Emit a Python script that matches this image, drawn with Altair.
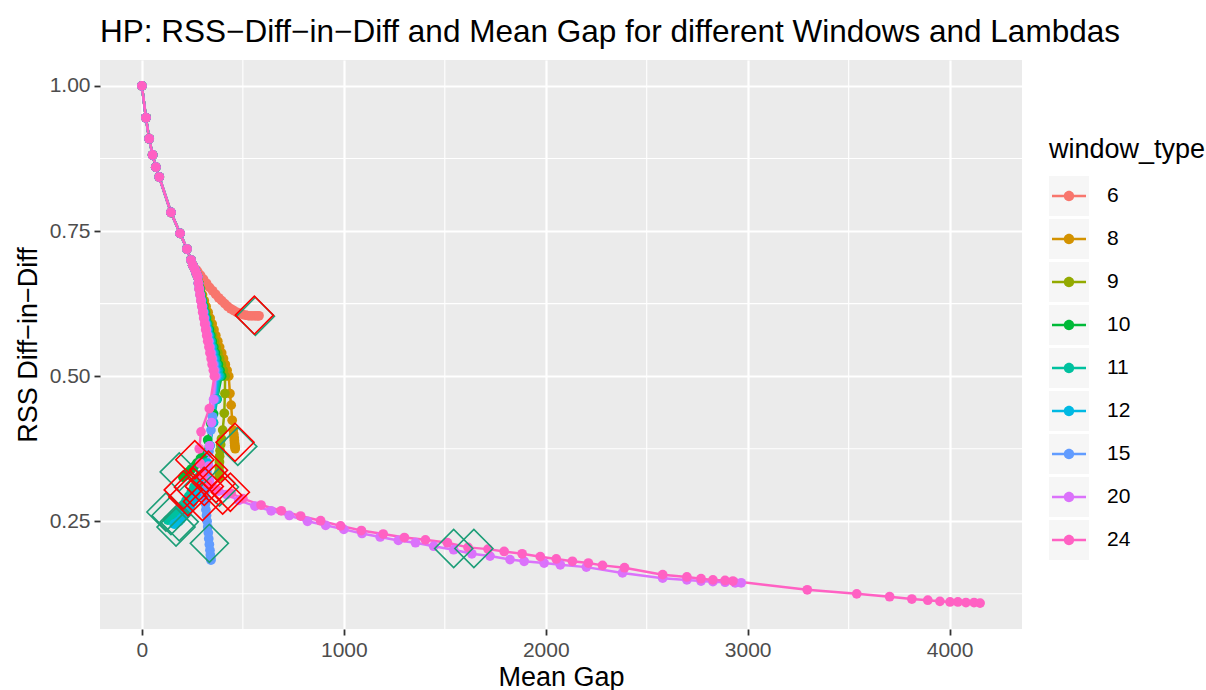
import altair as alt
import pandas as pd

# ---------------- data ----------------
window_types = ["6", "8", "9", "10", "11", "12", "15", "20", "24"]
palette = ["#F8766D", "#D39200", "#93AA00", "#00BA38", "#00C19F",
           "#00B9E3", "#619CFF", "#DB72FB", "#FF61C3"]

# common start (smallest lambdas) shared by every window
trunk_x = [0, 20, 36, 53, 69, 86, 144, 189, 223, 243, 252, 262]
trunk_y = [1.000, 0.945, 0.909, 0.881, 0.860, 0.843, 0.782, 0.746, 0.719, 0.700, 0.691, 0.684]

# window 6 branch
w6_x = [270, 276, 290, 305, 320, 335, 350, 365, 380, 395, 410, 425, 440, 455, 470, 485,
        500, 515, 530, 545, 560, 572, 580]
w6_y = [0.683, 0.680, 0.674, 0.667, 0.660, 0.653, 0.647, 0.641, 0.635, 0.630, 0.625, 0.620,
        0.616, 0.613, 0.610, 0.608, 0.606, 0.605, 0.604, 0.604, 0.604, 0.604, 0.604]

# descending fan (0.68 -> 0.50) for the other windows
bundle_y = [0.677, 0.671, 0.660, 0.650, 0.640, 0.630, 0.620, 0.610, 0.600, 0.590,
            0.580, 0.570, 0.560, 0.550, 0.540, 0.530, 0.520, 0.510, 0.500]
fan_x_8 = [270, 276, 283, 291, 300, 309, 318, 328, 338, 348, 357, 366, 376, 385, 395, 404, 413, 422, 430]
fan_x_9 = [270, 276, 282, 288, 295, 302, 310, 318, 326, 334, 342, 350, 359, 367, 376, 385, 394, 403, 412]
fan_x_10 = [270, 276, 281, 287, 293, 299, 306, 312, 319, 326, 334, 341, 348, 356, 364, 371, 379, 387, 395]
fan_x_11 = [270, 276, 281, 286, 291, 297, 303, 310, 316, 323, 329, 336, 343, 350, 357, 364, 371, 379, 386]
fan_x_12 = [270, 276, 280, 285, 290, 296, 301, 307, 313, 319, 325, 332, 338, 345, 351, 358, 364, 371, 378]
fan_x_15 = [270, 276, 280, 284, 289, 294, 299, 305, 310, 316, 321, 327, 333, 339, 345, 351, 358, 364, 370]
fan_x_20 = [270, 276, 280, 284, 288, 293, 298, 303, 308, 313, 319, 324, 330, 335, 341, 347, 352, 358, 364]
fan_x_24 = [270, 276, 280, 283, 288, 292, 297, 301, 306, 311, 316, 321, 326, 332, 337, 343, 348, 354, 359]

# ends of each window (largest lambdas)
end_x_8 = [436, 442, 447, 452, 455, 457, 458, 459, 460, 461, 462]
end_y_8 = [0.470, 0.450, 0.424, 0.407, 0.400, 0.394, 0.389, 0.385, 0.381, 0.378, 0.375]
end_x_9 = [411, 408, 400, 394, 390, 387, 385, 384, 383, 383, 383, 384]
end_y_9 = [0.470, 0.436, 0.407, 0.392, 0.382, 0.372, 0.362, 0.352, 0.344, 0.336, 0.330, 0.326]
end_x_10 = [372, 355, 342, 326, 309, 290, 272, 258, 245, 234, 224, 216, 209, 203]
end_y_10 = [0.460, 0.435, 0.418, 0.390, 0.367, 0.358, 0.350, 0.344, 0.340, 0.336, 0.333, 0.330, 0.328, 0.326]
end_x_11 = [372, 355, 335, 312, 290, 272, 258, 245, 232, 219, 206, 194, 182, 171, 160, 150, 141, 134, 128]
end_y_11 = [0.460, 0.420, 0.380, 0.350, 0.330, 0.318, 0.309, 0.301, 0.293, 0.286, 0.279, 0.273,
            0.268, 0.263, 0.260, 0.257, 0.255, 0.253, 0.252]
end_x_12 = [365, 352, 338, 326, 316, 305, 292, 279, 266, 253, 240, 228, 216, 205, 194, 184, 175, 167, 160]
end_y_12 = [0.460, 0.420, 0.380, 0.350, 0.334, 0.322, 0.310, 0.300, 0.291, 0.283, 0.276, 0.269,
            0.263, 0.258, 0.254, 0.250, 0.248, 0.246, 0.245]
end_x_15 = [360, 350, 342, 332, 322, 315, 312, 313, 315, 317, 320, 323, 326, 329, 331, 334, 337, 339, 341, 342]
end_y_15 = [0.460, 0.430, 0.407, 0.370, 0.335, 0.310, 0.300, 0.290, 0.280, 0.270, 0.260, 0.250,
            0.240, 0.230, 0.220, 0.210, 0.200, 0.192, 0.186, 0.183]
end_x_20 = [355, 345, 335, 330, 335, 350, 380, 420, 480, 560, 640, 730, 820, 910, 1000, 1090, 1180,
            1270, 1355, 1445, 1544, 1634, 1724, 1823, 1893, 1992, 2072, 2201, 2380, 2579, 2699,
            2769, 2828, 2888, 2938, 2968]
end_y_20 = [0.460, 0.420, 0.380, 0.345, 0.320, 0.308, 0.302, 0.296, 0.286, 0.276, 0.268, 0.260,
            0.250, 0.243, 0.236, 0.229, 0.223, 0.217, 0.213, 0.207, 0.201, 0.194, 0.190, 0.184,
            0.181, 0.178, 0.175, 0.171, 0.161, 0.152, 0.149, 0.147, 0.146, 0.145, 0.144, 0.144]
end_x_24 = [334, 293, 284, 288, 300, 325, 370, 442, 500, 590, 690, 786, 885, 984, 1087, 1195, 1300,
            1404, 1513, 1615, 1714, 1794, 1883, 1973, 2052, 2132, 2211, 2281, 2390, 2579, 2699,
            2769, 2828, 2888, 2927, 3295, 3540, 3703, 3813, 3892, 3952, 4002, 4041, 4081, 4121, 4151]
end_y_24 = [0.444, 0.404, 0.375, 0.350, 0.330, 0.315, 0.305, 0.298, 0.289, 0.278, 0.268, 0.259,
            0.251, 0.242, 0.234, 0.228, 0.222, 0.218, 0.213, 0.205, 0.202, 0.198, 0.194, 0.189,
            0.185, 0.181, 0.178, 0.174, 0.170, 0.158, 0.154, 0.151, 0.149, 0.148, 0.147, 0.132,
            0.125, 0.120, 0.116, 0.114, 0.112, 0.111, 0.111, 0.110, 0.110, 0.109]

# highlighted (diamond) points
teal_x = [562, 475, 185, 144, 185, 169, 334, 384, 119, 1544, 1644]
teal_y = [0.603, 0.379, 0.335, 0.260, 0.249, 0.240, 0.212, 0.309, 0.266, 0.203, 0.203]
red_x = [557, 461, 262, 330, 205, 255, 309, 367, 438, 400, 228, 300]
red_y = [0.605, 0.386, 0.356, 0.338, 0.304, 0.309, 0.310, 0.315, 0.300, 0.295, 0.292, 0.284]

x_ticks = [0, 1000, 2000, 3000, 4000]
y_ticks = [0.25, 0.50, 0.75, 1.00]
x_minor = [500, 1500, 2500, 3500]
y_minor = [0.125, 0.375, 0.625, 0.875]

# ---------------- tables ----------------
series = {
    "6": (w6_x, w6_y),
    "8": (fan_x_8 + end_x_8, bundle_y + end_y_8),
    "9": (fan_x_9 + end_x_9, bundle_y + end_y_9),
    "10": (fan_x_10 + end_x_10, bundle_y + end_y_10),
    "11": (fan_x_11 + end_x_11, bundle_y + end_y_11),
    "12": (fan_x_12 + end_x_12, bundle_y + end_y_12),
    "15": (fan_x_15 + end_x_15, bundle_y + end_y_15),
    "20": (fan_x_20 + end_x_20, bundle_y + end_y_20),
    "24": (fan_x_24 + end_x_24, bundle_y + end_y_24),
}
rows = []
for w in window_types:
    xs = trunk_x + series[w][0]
    ys = trunk_y + series[w][1]
    for i, (xv, yv) in enumerate(zip(xs, ys)):
        rows.append({"window_type": w, "x": xv, "y": yv, "i": i})
df = pd.DataFrame(rows)

teal_df = pd.DataFrame({"x": teal_x, "y": teal_y})
red_df = pd.DataFrame({"x": red_x, "y": red_y})
xminor_df = pd.DataFrame({"x": x_minor})
yminor_df = pd.DataFrame({"y": y_minor})

# ---------------- encodings ----------------
X = alt.X("x:Q", title="Mean Gap",
          scale=alt.Scale(domain=[-207.5, 4358.5], nice=False, zero=False),
          axis=alt.Axis(values=x_ticks, format="d", titlePadding=4))
Y = alt.Y("y:Q", title="RSS Diff\u2212in\u2212Diff",
          scale=alt.Scale(domain=[0.0644, 1.0446], nice=False, zero=False),
          axis=alt.Axis(values=y_ticks, format=".2f", titlePadding=7))

# key glyph (filled only): thin bar + dot, with the same [-1,1] extent as the grey key box
key_path = ("M-1,-1L-1,-1M1,1L1,1"
            "M-0.85,-0.065L0.85,-0.065L0.85,0.065L-0.85,0.065Z"
            "M-0.26,0A0.26,0.26,0,1,1,0.26,0A0.26,0.26,0,1,1,-0.26,0Z")
box_path = "M-1,-1L1,-1L1,1L-1,1Z"
label_expr = "length(datum.label) == 1 ? '\u00a0' + datum.label : datum.label"

legend_common = dict(
    orient="none", legendX=949, legendY=77, symbolSize=1600, symbolStrokeWidth=0,
    rowPadding=3, titlePadding=12, labelOffset=18, labelFontSize=21,
    titleFontSize=27, titleFontWeight="normal",
)
window_legend = alt.Legend(title="window_type", symbolType=key_path,
                           titleColor="black", labelColor="black",
                           labelExpr=label_expr, zindex=2, **legend_common)

color = alt.Color("window_type:N",
                  scale=alt.Scale(domain=window_types, range=palette),
                  legend=window_legend)

# grey key backgrounds: separate legend (different domain so it is not merged)
key_ids = ["key" + w for w in window_types]
key_bg = alt.Fill("key_id:N",
                  scale=alt.Scale(domain=key_ids, range=["#F2F2F2"] * len(key_ids)),
                  legend=alt.Legend(title="\u00a0", symbolType=box_path,
                                    labelExpr="''", zindex=1, **legend_common))

minor_x = alt.Chart(xminor_df).mark_rule(color="white", strokeWidth=1.1).encode(x=X)
minor_y = alt.Chart(yminor_df).mark_rule(color="white", strokeWidth=1.1).encode(y=Y)

bg_keys = alt.Chart(df).transform_filter("datum.x > 100000").transform_calculate(
    key_id="'key' + datum.window_type"
).mark_square().encode(x=X, y=Y, fill=key_bg)

lines = alt.Chart(df).mark_line(strokeWidth=2.5).encode(
    x=X, y=Y, color=color, order=alt.Order("i:Q"))
points = alt.Chart(df).mark_circle(size=95, opacity=1).encode(
    x=X, y=Y, color=color)

teal = alt.Chart(teal_df).mark_point(shape="diamond", size=1450, filled=False,
                                     strokeWidth=1.6, color="#1B9E77", opacity=1).encode(x=X, y=Y)
red = alt.Chart(red_df).mark_point(shape="diamond", size=1450, filled=False,
                                   strokeWidth=1.6, color="#FF0000", opacity=1).encode(x=X, y=Y)

chart = alt.layer(minor_x, minor_y, bg_keys, lines, points, teal, red).properties(
    width=922, height=569,
    autosize=alt.AutoSizeParams(type="none"),
    padding={"left": 100, "top": 60, "right": 184, "bottom": 61},
    title=alt.TitleParams(
        "HP: RSS\u2212Diff\u2212in\u2212Diff and Mean Gap for different Windows and Lambdas",
        anchor="start", frame="group", fontSize=31.5, fontWeight="normal",
        color="black", offset=11),
).configure(
    font="Liberation Sans", background="white"
).configure_view(
    fill="#EBEBEB", stroke=None
).configure_axis(
    grid=True, gridColor="white", gridWidth=2.2, domain=False,
    tickColor="#333333", tickWidth=1.8, tickSize=6,
    labelColor="#4D4D4D", labelFontSize=21, labelPadding=4,
    titleFontSize=27, titleFontWeight="normal", titleColor="black",
)

chart.save("out.html", embed_options={"renderer": "svg", "actions": False})
